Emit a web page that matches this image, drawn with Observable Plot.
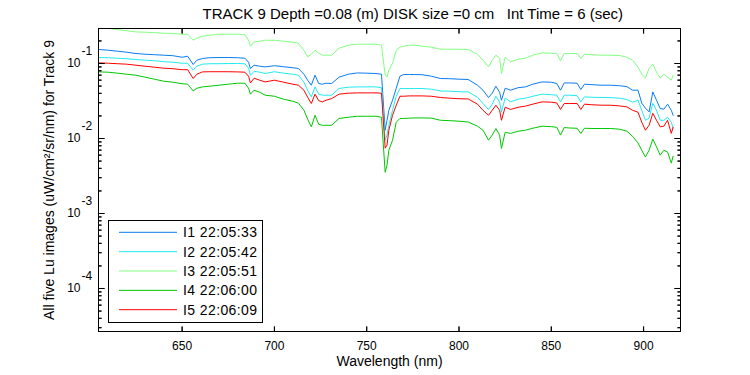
<!DOCTYPE html>
<html><head><meta charset="utf-8">
<script src="https://cdn.jsdelivr.net/npm/d3@7"></script>
<script src="https://cdn.jsdelivr.net/npm/@observablehq/plot@0.6"></script>
<style>body{margin:0;background:#fff;}</style>
</head><body><div id="chart"></div>
<script>
const wavelength = [605,610,615,620,625,630,635,640,645,650,
 653,656,658,661,665,670,675,680,
 684,686,687,689,692,695,700,
 705,710,713,716,718,720,722,724,726,728,731,
 735,740,745,750,755,758,
 760,761,762,764,766,768,770,773,776,780,
 785,790,795,800,805,810,813,816,818,820,
 822,823,825,828,832,836,840,845,850,
 853,855,857,860,864,866,868,872,877,882,
 887,891,894,897,899,901,903,905,907,909,911,913,915,916];

const i1 = [0.1537,0.1504,0.1459,0.1415,0.1359,0.1330,0.1310,0.1291,0.1271,0.1213,
 0.1251,0.0970,0.1107,0.1166,0.1195,0.1202,0.1202,0.1195,
 0.1177,0.1040,0.0858,0.0949,0.0920,0.0901,0.0935,
 0.0906,0.0879,0.0858,0.0720,0.0599,0.0514,0.0698,0.0541,0.0530,0.0546,0.0541,
 0.0657,0.0720,0.0749,0.0743,0.0736,0.0720,
 0.0129,0.0175,0.0238,0.0324,0.0468,0.0677,0.0713,0.0713,0.0713,0.0709,
 0.0677,0.0631,0.0627,0.0618,0.0612,0.0514,0.0441,0.0352,0.0402,0.0498,
 0.0414,0.0324,0.0468,0.0441,0.0476,0.0488,0.0530,0.0568,0.0563,
 0.0541,0.0441,0.0551,0.0551,0.0546,0.0450,0.0530,0.0522,0.0514,0.0514,
 0.0506,0.0491,0.0441,0.0441,0.0296,0.0254,0.0226,0.0418,0.0324,0.0251,0.0246,0.0287,0.0238,0.0204];

const i2 = [0.1202,0.1195,0.1177,0.1159,0.1131,0.1107,0.1090,0.1057,0.1040,0.1009,
 0.1009,0.0814,0.0920,0.0979,0.0994,0.0994,0.1000,0.1000,
 0.0994,0.0866,0.0698,0.0789,0.0766,0.0736,0.0777,
 0.0743,0.0720,0.0698,0.0563,0.0441,0.0359,0.0488,0.0390,0.0378,0.0378,0.0378,
 0.0464,0.0483,0.0488,0.0488,0.0488,0.0476,
 0.0095,0.0111,0.0150,0.0238,0.0366,0.0464,0.0464,0.0464,0.0464,0.0464,
 0.0454,0.0431,0.0427,0.0421,0.0418,0.0355,0.0293,0.0244,0.0287,0.0366,
 0.0305,0.0226,0.0345,0.0308,0.0334,0.0345,0.0366,0.0390,0.0384,
 0.0378,0.0308,0.0378,0.0378,0.0372,0.0308,0.0359,0.0355,0.0352,0.0352,
 0.0345,0.0331,0.0305,0.0324,0.0238,0.0175,0.0187,0.0296,0.0238,0.0175,0.0175,0.0192,0.0165,0.0137];

const i3 = [0.3144,0.2956,0.2825,0.2738,0.2639,0.2615,0.2575,0.2535,0.2512,0.2459,
 0.2459,0.2045,0.2175,0.2312,0.2384,0.2459,0.2459,0.2459,
 0.2421,0.2045,0.1701,0.1941,0.1983,0.2045,0.2045,
 0.1983,0.1923,0.1865,0.1504,0.1225,0.1330,0.1504,0.1372,0.1291,0.1291,0.1291,
 0.1600,0.1754,0.1809,0.1809,0.1809,0.1754,
 0.0698,0.0657,0.0814,0.1009,0.1504,0.1649,0.1701,0.1754,0.1754,0.1701,
 0.1649,0.1551,0.1551,0.1551,0.1537,0.1330,0.1107,0.0901,0.1107,0.1291,
 0.1177,0.0736,0.1213,0.1050,0.1141,0.1177,0.1291,0.1385,0.1372,
 0.1359,0.1083,0.1359,0.1359,0.1359,0.1166,0.1330,0.1310,0.1291,0.1291,
 0.1279,0.1213,0.1107,0.0893,0.0720,0.0637,0.0866,0.0979,0.0766,0.0637,0.0720,0.0657,0.0599,0.0698];

const i4 = [0.0773,0.0766,0.0743,0.0720,0.0698,0.0657,0.0618,0.0581,0.0563,0.0538,
 0.0530,0.0431,0.0468,0.0488,0.0498,0.0514,0.0530,0.0546,
 0.0546,0.0468,0.0390,0.0441,0.0414,0.0378,0.0366,
 0.0334,0.0314,0.0296,0.0238,0.0181,0.0143,0.0204,0.0155,0.0150,0.0150,0.0150,
 0.0185,0.0192,0.0198,0.0198,0.0198,0.0192,
 0.00355,0.00441,0.00698,0.0095,0.0165,0.0185,0.0185,0.0187,0.0188,0.0188,
 0.0187,0.0175,0.0173,0.0170,0.0166,0.0146,0.0129,0.0095,0.0111,0.0136,
 0.0111,0.00736,0.0121,0.0117,0.0125,0.0129,0.0137,0.0146,0.0144,
 0.0141,0.0111,0.0140,0.0138,0.0137,0.0117,0.0137,0.0136,0.0136,0.0136,
 0.0133,0.0125,0.0107,0.0087,0.00698,0.00568,0.00698,0.0098,0.00775,0.0060,0.00698,0.0066,0.0047,0.0058];

const i5 = [0.1019,0.1009,0.0994,0.0979,0.0949,0.0920,0.0893,0.0866,0.0853,0.0827,
 0.0827,0.0631,0.0720,0.0773,0.0777,0.0777,0.0777,0.0773,
 0.0766,0.0677,0.0551,0.0637,0.0599,0.0568,0.0599,
 0.0563,0.0530,0.0514,0.0441,0.0355,0.0293,0.0390,0.0319,0.0308,0.0324,0.0341,
 0.0390,0.0402,0.0406,0.0406,0.0406,0.0402,
 0.00743,0.00814,0.0129,0.0204,0.0278,0.0366,0.0366,0.0370,0.0370,0.0370,
 0.0366,0.0352,0.0345,0.0339,0.0337,0.0287,0.0238,0.0204,0.0238,0.0278,
 0.0238,0.0175,0.0261,0.0244,0.0261,0.0270,0.0287,0.0308,0.0305,
 0.0298,0.0244,0.0293,0.0293,0.0293,0.0244,0.0287,0.0282,0.0278,0.0278,
 0.0272,0.0264,0.0238,0.0224,0.0165,0.0129,0.0150,0.0217,0.0175,0.0143,0.0146,0.0175,0.0117,0.0141];

const seriesNames = ["I1 22:05:33","I2 22:05:42","I3 22:05:51","I4 22:06:00","I5 22:06:09"];
const titleText = ["TRACK 9 Depth =0.08 (m) DISK size =0 cm\u00a0\u00a0\u00a0Int Time = 6 (sec)"];
const xLabel = ["Wavelength (nm)"];
const yLabel = ["All five Lu images (uW/cm\u00b2/sr/nm) for Track 9"];
const xTicks = [650,700,750,800,850,900];
const yMajor = [1e-4,1e-3,1e-2,1e-1];
const yExp = ["-4","-3","-2","-1"];

const seriesValues = [i1,i2,i3,i4,i5];
const colors = ["#0a7cf0","#22eaf0","#80ff80","#00c800","#ff0000"];
const yDomain = [2.67e-5, 0.293];
const xDomain = [604.7, 920];

const rows = seriesNames.flatMap((s,k) => wavelength.map((w,j) => ({wl: w, v: seriesValues[k][j], s})));
const yMinor = [];
for (let e = -5; e <= -1; e++) for (let m = 2; m <= 9; m++) {
  const v = m * Math.pow(10, e);
  if (v >= yDomain[0] && v <= yDomain[1]) yMinor.push(v);
}
const font = "'Liberation Sans', Arial, Helvetica, sans-serif";
const tk = {anchor: "start", shape: "spike", r: 0, stroke: "black", fill: "none", strokeWidth: 1};

const chart = Plot.plot({
  width: 750, height: 375,
  marginLeft: 98, marginRight: 70, marginTop: 28, marginBottom: 44,
  style: {fontFamily: font, background: "white", color: "black"},
  x: {domain: xDomain, axis: null},
  y: {type: "log", domain: yDomain, axis: null},
  color: {domain: seriesNames, range: colors},
  marks: [
    Plot.line(rows, {x: "wl", y: "v", z: "s", stroke: "s", strokeWidth: 1, clip: true}),
    Plot.frame({stroke: "black"}),
    Plot.vector(xTicks, {...tk, x: d => d, frameAnchor: "bottom", length: 5, rotate: 0}),
    Plot.vector(xTicks, {...tk, x: d => d, frameAnchor: "top", length: 5, rotate: 180}),
    Plot.vector(yMajor, {...tk, y: d => d, frameAnchor: "left", length: 6, rotate: 90}),
    Plot.vector(yMajor, {...tk, y: d => d, frameAnchor: "right", length: 6, rotate: -90}),
    Plot.vector(yMinor, {...tk, y: d => d, frameAnchor: "left", length: 3, rotate: 90}),
    Plot.vector(yMinor, {...tk, y: d => d, frameAnchor: "right", length: 3, rotate: -90}),
    Plot.text(xTicks, {x: d => d, frameAnchor: "bottom", dy: 14.5, lineAnchor: "middle", textAnchor: "middle", text: d => String(d), fontSize: 12}),
    Plot.text(yMajor, {y: d => d, frameAnchor: "left", dx: -18, lineAnchor: "middle", textAnchor: "end", text: () => "10", fontSize: 12}),
    Plot.text(yMajor, {y: d => d, frameAnchor: "left", dx: -17, dy: -12.5, lineAnchor: "middle", textAnchor: "start", text: (d, i) => yExp[i], fontSize: 12}),
    Plot.text(titleText, {frameAnchor: "top-left", dx: 104, dy: -14.5, lineAnchor: "middle", textAnchor: "start", text: d => d, fontSize: 15, letterSpacing: 0.45}),
    Plot.text(xLabel, {frameAnchor: "bottom", dy: 30.5, lineAnchor: "middle", textAnchor: "middle", text: d => d, fontSize: 14}),
    Plot.text(yLabel, {frameAnchor: "left", dx: -49, rotate: -90, lineAnchor: "middle", textAnchor: "middle", text: d => d, fontSize: 14, letterSpacing: 0.2})
  ]
});
document.getElementById("chart").appendChild(chart);

// legend box inside the axes (lower-left)
const svg = d3.select(chart);
const lg = svg.append("g").attr("font-family", font).attr("font-size", 14)
  .attr("text-anchor", "start").attr("letter-spacing", 0.4);
lg.append("rect").attr("x", 108.5).attr("y", 220.5).attr("width", 154).attr("height", 102)
  .attr("fill", "white").attr("stroke", "black");
seriesNames.forEach((name, i) => {
  const yy = 232.3 + i * 19.35;
  lg.append("line").attr("x1", 119).attr("x2", 177).attr("y1", yy).attr("y2", yy)
    .attr("stroke", colors[i]).attr("stroke-width", 1);
  lg.append("text").attr("x", 183).attr("y", yy + 5).attr("fill", "black")
    .attr("text-anchor", "start").text(name);
});
</script>
</body></html>
